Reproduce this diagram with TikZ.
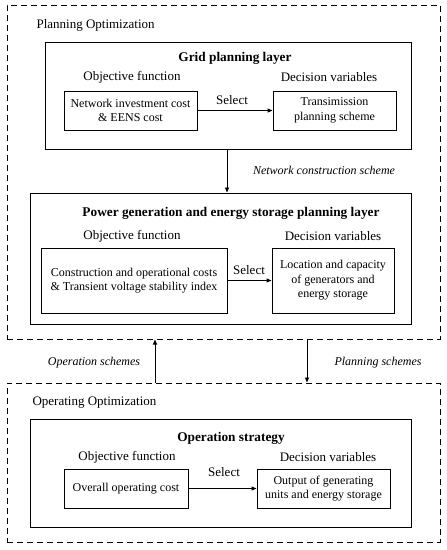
\documentclass[tikz,border=0pt]{standalone}
\usepackage{fontspec}
\setmainfont{Liberation Serif}
\usetikzlibrary{arrows.meta}
\begin{document}
\begin{tikzpicture}[x=1pt,y=-1pt,
  outerbox/.style={draw, line width=1pt, dash pattern=on 6pt off 4pt, minimum width=433pt, inner sep=0pt},
  layerbox/.style={draw, line width=1pt, inner sep=0pt},
  itembox/.style={draw, line width=0.9pt, inner sep=0pt, align=center, font=\fontsize{12}{14.5}\selectfont},
  head/.style={font=\fontsize{13}{15}\selectfont},
  title/.style={font=\bfseries\fontsize{13.3}{15}\selectfont},
  lbl/.style={font=\itshape\fontsize{12}{14}\selectfont},
  arr/.style={line width=0.9pt, -{Triangle[length=5pt,width=4pt]}}]
\useasboundingbox (0,0) rectangle (447,550);
% outer dashed boxes
\node[outerbox, minimum height=334pt] (plan) at (223.5,172) {};
\node[outerbox, minimum height=159pt] (oper) at (223.5,462.5) {};
\node[head, anchor=west] (plantxt) at (33,25) {Planning Optimization};
\node[head, anchor=west] (opertxt) at (29,403) {Operating Optimization};
% grid planning layer
\node[layerbox, minimum width=366pt, minimum height=107pt] (grid) at (228,95.5) {};
\node[title] (gridt) at (235,58) {Grid planning layer};
\node[head] (gof) at (132,77) {Objective function};
\node[head] (gdv) at (329,77) {Decision variables};
\node[itembox, minimum width=133pt, minimum height=39pt] (g1) at (130.5,110.5) {Network investment cost\\\& EENS cost};
\node[itembox, minimum width=123pt, minimum height=39pt] (g2) at (334.5,110.5) {Transimission\\planning scheme};
\draw[arr] (g1.east) -- (g2.west);
\node[head] (gsel) at (232,100) {Select};
% power generation layer
\node[layerbox, minimum width=381pt, minimum height=131pt] (power) at (220.5,258.5) {};
\node[title] (powert) at (231,213) {Power generation and energy storage planning layer};
\node[head] (pof) at (132,236) {Objective function};
\node[head] (pdv) at (333,236) {Decision variables};
\node[itembox, minimum width=186pt, minimum height=65pt] (p1) at (134,280.5) {Construction and operational costs\\\& Transient voltage stability index};
\node[itembox, minimum width=122pt, minimum height=65pt] (p2) at (333,280.5) {Location and capacity\\of generators and\\energy storage};
\draw[arr] (p1.east) -- (p2.west);
\node[head] (psel) at (249,270) {Select};
% connector grid -> power
\coordinate (netx) at (227,0);
\draw[arr] (grid.south -| netx) -- (power.north -| netx);
\node[lbl] (netl) at (324,170) {Network construction scheme};
% operation strategy
\node[layerbox, minimum width=381pt, minimum height=108pt] (op) at (220.5,473) {};
\node[title] (opt) at (231,438) {Operation strategy};
\node[head] (oof) at (127,457) {Objective function};
\node[head] (odv) at (328,457) {Decision variables};
\node[itembox, minimum width=124pt, minimum height=39pt] (o1) at (126,488.5) {Overall operating cost};
\node[itembox, minimum width=133pt, minimum height=39pt] (o2) at (323.5,488.5) {Output of generating\\units and energy storage};
\draw[arr] (o1.east) -- (o2.west);
\node[head] (osel) at (224,472) {Select};
% connectors between optimizations
\coordinate (upx) at (155,0);
\coordinate (downx) at (307,0);
\draw[arr] (oper.north -| upx) -- (plan.south -| upx);
\draw[arr] (plan.south -| downx) -- (oper.north -| downx);
\node[lbl] (opl) at (94,363) {Operation schemes};
\node[lbl] (pll) at (378,363) {Planning schemes};
\end{tikzpicture}
\end{document}
